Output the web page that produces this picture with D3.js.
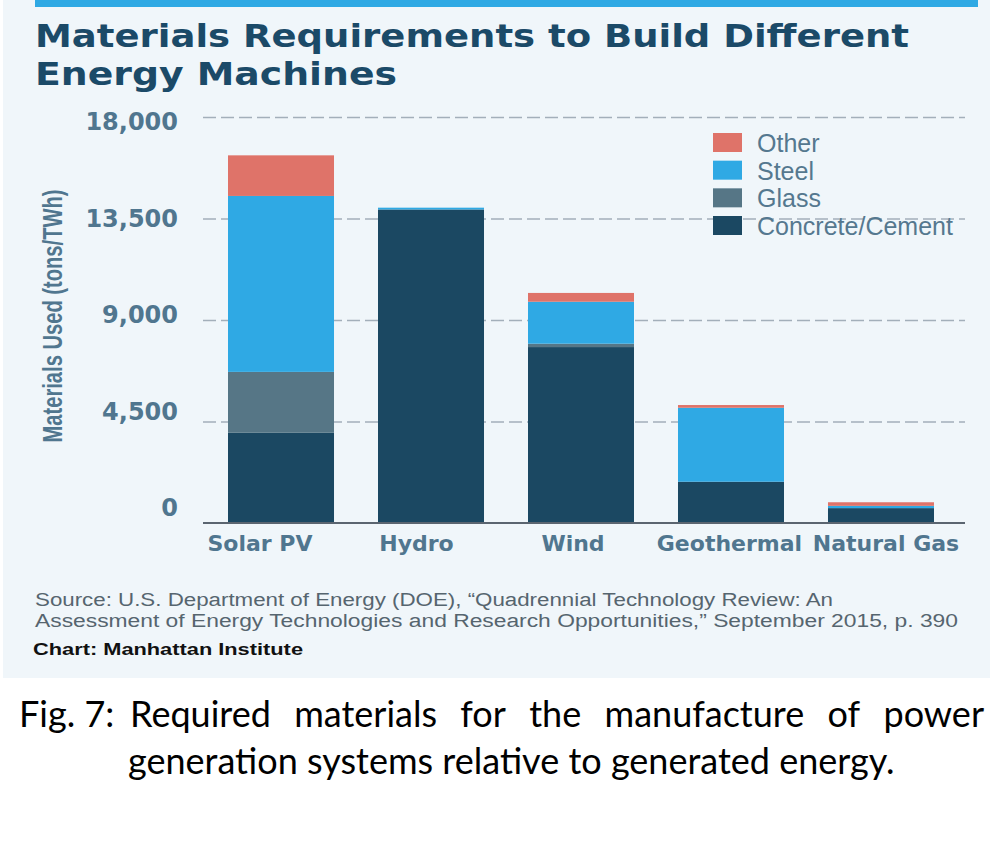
<!DOCTYPE html>
<html>
<head>
<meta charset="utf-8">
<script src="https://cdn.jsdelivr.net/npm/d3@7"></script>
<style>
  body { margin: 0; background: #fff; }
  svg { display: block; }
</style>
</head>
<body>
<svg id="chart" width="1000" height="843"></svg>
<script>
// values (tons / TWh)
const categories = ["Solar PV", "Hydro", "Wind", "Geothermal", "Natural Gas"];
const concrete = [4000, 13900, 7800, 1830, 660];
const glass    = [2700, 0, 150, 0, 0];
const steel    = [7800, 80, 1860, 3280, 100];
const other    = [1800, 0, 390, 120, 160];
const seriesNames = ["Concrete/Cement", "Glass", "Steel", "Other"];
const yTicks = [0, 4500, 9000, 13500, 18000];

const colors = d3.scaleOrdinal()
  .domain(seriesNames)
  .range(["#1b4862", "#567686", "#2fa9e4", "#df7369"]);

const rows = categories.map((c, i) => ({
  cat: c,
  "Concrete/Cement": concrete[i],
  "Glass": glass[i],
  "Steel": steel[i],
  "Other": other[i]
}));

const svg = d3.select("#chart");

// panel + top rule
svg.append("rect").attr("x", 3).attr("y", 0).attr("width", 987).attr("height", 678).attr("fill", "#f0f6fa");
svg.append("rect").attr("x", 35).attr("y", 0).attr("width", 943).attr("height", 7).attr("fill", "#2fa9e4");

// title
const title = svg.append("g")
  .attr("font-family", "'DejaVu Sans', sans-serif")
  .attr("font-weight", "bold")
  .attr("font-size", 32)
  .attr("fill", "#1b4a68");
title.append("text").attr("x", 35).attr("y", 47)
  .attr("textLength", 874).attr("lengthAdjust", "spacingAndGlyphs")
  .text("Materials Requirements to Build Different");
title.append("text").attr("x", 35).attr("y", 85)
  .attr("textLength", 362).attr("lengthAdjust", "spacingAndGlyphs")
  .text("Energy Machines");

// scales
const x = d3.scaleBand()
  .domain(categories)
  .range([206, 956])
  .paddingInner(0.2933)
  .paddingOuter(0.1467);

const y = d3.scaleLinear().domain([0, 18000]).range([523, 117]);
// tick labels in the original sit on a slightly tighter spacing than the grid
const yLabel = d3.scaleLinear().domain([0, 18000]).range([508, 122]);
const xLabel = d3.scalePoint().domain(categories).range([260, 886]);

// gridlines
const grid = svg.append("g")
  .attr("transform", "translate(203,0)")
  .call(d3.axisRight(y).tickValues(yTicks.filter(t => t > 0)).tickSize(762).tickFormat(""));
grid.select(".domain").remove();
grid.selectAll(".tick line")
  .attr("stroke", "#a3afba")
  .attr("stroke-width", 1.5)
  .attr("stroke-dasharray", "13,5");

// y tick labels
const yAxis = svg.append("g")
  .attr("transform", "translate(178,0)")
  .call(d3.axisLeft(yLabel).tickValues(yTicks).tickSize(0).tickPadding(0).tickFormat(d3.format(",")));
yAxis.select(".domain").remove();
yAxis.selectAll("text")
  .attr("font-family", "'DejaVu Sans', sans-serif")
  .attr("font-weight", "bold")
  .attr("font-size", 24)
  .attr("fill", "#50768f");

// y title
svg.append("text")
  .attr("transform", "translate(52,316) rotate(-90)")
  .attr("text-anchor", "middle")
  .attr("dy", "0.36em")
  .attr("font-family", "'Liberation Sans Narrow', 'Liberation Sans', sans-serif")
  .attr("font-weight", "bold")
  .attr("font-size", 27)
  .attr("fill", "#50768f")
  .attr("textLength", 253)
  .attr("lengthAdjust", "spacingAndGlyphs")
  .text("Materials Used (tons/TWh)");

// stacked bars
const stacked = d3.stack().keys(seriesNames)(rows);
svg.append("g")
  .selectAll("g")
  .data(stacked)
  .join("g")
  .attr("fill", d => colors(d.key))
  .selectAll("rect")
  .data(d => d)
  .join("rect")
  .attr("x", d => x(d.data.cat))
  .attr("width", x.bandwidth())
  .attr("y", d => y(d[1]))
  .attr("height", d => y(d[0]) - y(d[1]));

// baseline
svg.append("line")
  .attr("x1", 203).attr("x2", 965)
  .attr("y1", y(0)).attr("y2", y(0))
  .attr("stroke", "#5b6570")
  .attr("stroke-width", 2);

// x labels
svg.append("g")
  .selectAll("text")
  .data(categories)
  .join("text")
  .attr("x", d => xLabel(d))
  .attr("y", 551)
  .attr("text-anchor", "middle")
  .attr("font-family", "'DejaVu Sans', sans-serif")
  .attr("font-weight", "bold")
  .attr("font-size", 22)
  .attr("fill", "#50768f")
  .text(d => d);

// legend
const legendKeys = seriesNames.slice().reverse();
const legendY = d3.scalePoint().domain(legendKeys).range([133, 216]);
const legend = svg.append("g")
  .selectAll("g")
  .data(legendKeys)
  .join("g")
  .attr("transform", d => `translate(713,${legendY(d)})`);
legend.append("rect")
  .attr("width", 29).attr("height", 19)
  .attr("fill", d => colors(d));
legend.append("text")
  .attr("x", 44).attr("y", 19)
  .attr("font-family", "'Liberation Sans', Arial, sans-serif")
  .attr("font-size", 25)
  .attr("fill", "#55788f")
  .text(d => d);

// source notes
const src = svg.append("g")
  .attr("font-family", "'Liberation Sans', Arial, sans-serif")
  .attr("font-size", 18)
  .attr("fill", "#56656f");
src.append("text").attr("x", 35).attr("y", 606)
  .attr("textLength", 798).attr("lengthAdjust", "spacingAndGlyphs")
  .text("Source: U.S. Department of Energy (DOE), \u201cQuadrennial Technology Review: An");
src.append("text").attr("x", 35).attr("y", 627)
  .attr("textLength", 923).attr("lengthAdjust", "spacingAndGlyphs")
  .text("Assessment of Energy Technologies and Research Opportunities,\u201d September 2015, p. 390");
svg.append("text").attr("x", 33).attr("y", 655)
  .attr("font-family", "'Liberation Sans', Arial, sans-serif")
  .attr("font-weight", "bold")
  .attr("font-size", 17)
  .attr("fill", "#111")
  .attr("textLength", 270).attr("lengthAdjust", "spacingAndGlyphs")
  .text("Chart: Manhattan Institute");

// figure caption (justified first line, hanging indent)
const cap = svg.append("g")
  .attr("font-family", "Lato, 'Open Sans', sans-serif")
  .attr("fill", "#000");
const line2 = cap.append("text").attr("x", 128).attr("y", 774).attr("font-size", 31)
  .text("generation systems relative to generated energy.");
const fs = 31 * 767 / line2.node().getComputedTextLength();
line2.attr("font-size", fs);

cap.append("text").attr("x", 19).attr("y", 727).attr("font-size", fs).text("Fig. 7:");
const words = ["Required", "materials", "for", "the", "manufacture", "of", "power"];
const wordNodes = cap.selectAll("text.w")
  .data(words)
  .join("text")
  .attr("class", "w")
  .attr("y", 727)
  .attr("font-size", fs)
  .text(d => d);
const widths = wordNodes.nodes().map(n => n.getComputedTextLength());
const startX = 130, endX = 984;
const gap = (endX - startX - d3.sum(widths)) / (words.length - 1);
let cx = startX;
wordNodes.attr("x", (d, i) => { const v = cx; cx += widths[i] + gap; return v; });
</script>
</body>
</html>
